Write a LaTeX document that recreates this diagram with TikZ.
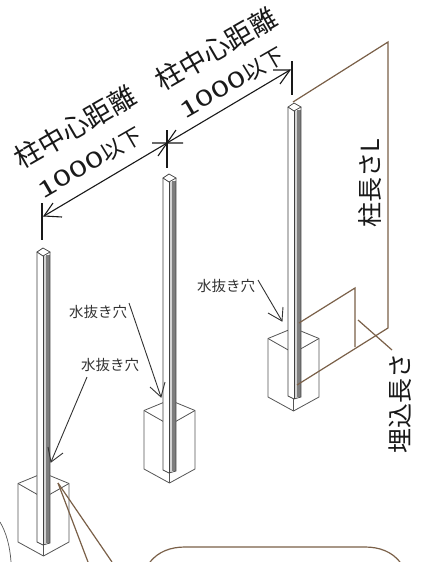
\documentclass[tikz,border=0pt]{standalone}
\usepackage{fontspec}
\newfontfamily\jpf{Noto Sans CJK JP}
\usetikzlibrary{arrows.meta}
\definecolor{brownline}{HTML}{7A6048}
\definecolor{boxline}{HTML}{555555}
\definecolor{bandgray}{HTML}{7E7E7E}
\definecolor{bandlight}{HTML}{D4D4D4}
\definecolor{labelgray}{HTML}{333333}
\newcommand{\widedigits}[1]{\scalebox{1.5}[1]{#1}}
\tikzset{
  dimline/.style={line width=1.1pt,black!90},
  leader/.style={line width=.9pt,black!80},
  brownleader/.style={line width=1.2pt,brownline},
  boxedge/.style={line width=.8pt,boxline},
  postedge/.style={line width=.7pt,black!75},
  dimtext/.style={font=\jpf\fontsize{27}{27}\selectfont,inner sep=0pt,rotate=30,black!90},
  numtext/.style={font=\jpf\fontsize{22}{22}\selectfont,inner sep=0pt,rotate=30,black!90},
  sidetext/.style={font=\jpf\fontsize{25}{25}\selectfont,inner sep=0pt,rotate=90,black!90},
  holetext/.style={font=\jpf\fontsize{14.5}{15}\selectfont,inner sep=0pt,labelgray},
}
% #1 post left x, #2 diamond top y, #3 post bottom y, #4 box left x, #5 box back y
\newcommand{\standpost}[5]{%
  \pgfmathsetmacro{\cx}{#1+6}
  \pgfmathsetmacro{\xr}{#1+13}
  \pgfmathsetmacro{\bandl}{#1+9}
  \pgfmathsetmacro{\dmid}{#2+4}
  \pgfmathsetmacro{\dbot}{#2+8}
  \pgfmathsetmacro{\bl}{#4}
  \pgfmathsetmacro{\bc}{#4+25.5}
  \pgfmathsetmacro{\br}{#4+51}
  \pgfmathsetmacro{\bmid}{#5+10.5}
  \pgfmathsetmacro{\bfront}{#5+25}
  \pgfmathsetmacro{\blow}{#5+69}
  \pgfmathsetmacro{\bbot}{#5+83}
  \draw[boxedge,line join=round] (\bl,\bmid) -- (\bc,#5) -- (\br,\bmid) -- (\br,\blow) -- (\bc,\bbot) -- (\bl,\blow) -- cycle;
  \draw[boxedge] (\bl,\bmid) -- (\bc,\bfront) -- (\br,\bmid);
  \draw[boxedge] (\bc,\bfront) -- (\bc,\bbot);
  \fill[white] (#1,\dmid) -- (\cx,#2) -- (\xr,\dmid) -- (\xr,#3-3) -- (\cx,#3) -- (#1,#3-3) -- cycle;
  \fill[bandlight] (\cx,\dbot) rectangle (\bandl,#3-1);
  \fill[bandgray] (\bandl,\dbot-1) rectangle (\xr,#3-2);
  \draw[postedge] (#1,\dmid) -- (#1,#3-3) -- (\cx,#3) -- (\xr,#3-2) -- (\xr,\dmid);
  \draw[postedge] (\cx,\dbot) -- (\cx,#3);
  \draw[postedge,fill=white] (#1,\dmid) -- (\cx,#2) -- (\xr,\dmid) -- (\cx,\dbot) -- cycle;
}
\begin{document}
\begin{tikzpicture}[x=1pt,y=-1pt]
\useasboundingbox (0,0) rectangle (422,562);
\fill[white] (0,0) rectangle (422,562);

\standpost{288}{103}{399}{268}{328}
\standpost{163}{174}{473}{144}{400}
\standpost{37}{248}{545}{18}{473}

% named anchor points
\coordinate (dimL) at (44,216);
\coordinate (dimM) at (167,143);
\coordinate (dimR) at (290,70);
\coordinate (topP) at (293,102);
\coordinate (topC) at (388,42);
\coordinate (lowC) at (388,328);
\coordinate (lowP) at (297,385);
\coordinate (embA) at (299,323);
\coordinate (embB) at (355,288);
\coordinate (embC) at (355,347);
\coordinate (embT) at (358,320);
\coordinate (embU) at (392,350);
\coordinate (baseP) at (58,483);
\coordinate (baseA) at (88,562);
\coordinate (baseB) at (112,562);

% dimension lines with open heads
\draw[dimline] (dimL) -- (dimM) -- (dimR);
\draw[dimline] (62,217) -- (dimL) -- (53,203);
\draw[dimline] (152,143) -- (dimM) -- (158,156);
\draw[dimline] (183,143) -- (dimM) -- (176,130);
\draw[dimline] (273,70) -- (dimR) -- (280,84);
\draw[dimline] (42,203) -- (42,240);
\draw[dimline] (167,130) -- (167,168);
\draw[dimline] (292,61) -- (292,95);

% brown dimension lines
\draw[brownleader,line join=miter] (topP) -- (topC) -- (lowC) -- (lowP);
\draw[brownleader] (embA) -- (embB) -- (embC);
\draw[brownleader] (embT) -- (embU);
\draw[brownleader] (baseP) -- (baseA);
\draw[brownleader] (baseP) -- (baseB);

% callouts at the bottom edge
\draw[brownleader] (150,562) .. controls (158,552) and (170,547) .. (185,547) -- (365,547) .. controls (380,547) and (392,552) .. (400,562);
\draw[line width=.7pt,boxline] (0,522) .. controls (6,532) and (10,546) .. (11,562);

% labels
\node[dimtext] (d1) at (75,127) {柱中心距離};
\node[numtext] (n1) at (90,163) {\widedigits{1000}以下};
\node[dimtext] (d2) at (216,49) {柱中心距離};
\node[numtext] (n2) at (232,83) {\widedigits{1000}以下};
\node[sidetext] (len) at (370,183) {柱長さL};
\node[sidetext] (emb) at (400,403) {埋込長さ};
\node[holetext] (h1) at (98,312) {水抜き穴};
\node[holetext] (h2) at (110,365) {水抜き穴};
\node[holetext] (h3) at (226,286) {水抜き穴};

% hole leaders
\coordinate (tipA) at (161,397);
\coordinate (tipB) at (51,462);
\coordinate (tipC) at (282,321);
\coordinate (startA) at (129,303);
\coordinate (startB) at (87,377);
\coordinate (startC) at (258,280);
\draw[leader] (startA) -- (tipA);
\draw[leader] (150,387) -- (tipA) -- (165,382);
\draw[leader] (startB) -- (tipB);
\draw[leader] (48,447) -- (tipB) -- (63,453);
\draw[leader] (startC) -- (tipC);
\draw[leader] (268,313) -- (tipC) -- (283,307);
\end{tikzpicture}
\end{document}
